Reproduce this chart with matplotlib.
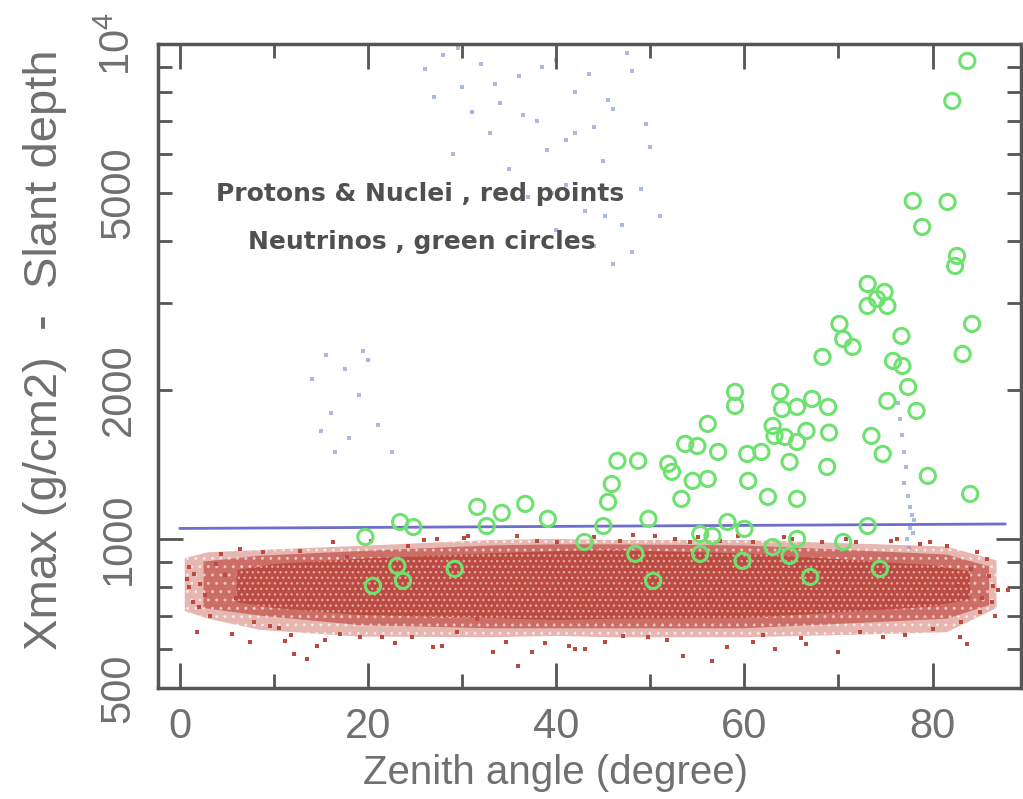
import matplotlib
matplotlib.use('Agg')
import matplotlib.pyplot as plt
from matplotlib.ticker import FixedLocator, FixedFormatter

plt.rcParams['font.family'] = ['Liberation Sans', 'DejaVu Sans']
plt.rcParams['mathtext.default'] = 'regular'

# neutrino showers (green circles): zenith angle [deg], Xmax - slant depth [g/cm2]
nu_angle = [19.7, 20.5, 23.1, 23.7, 29.2, 23.4, 24.8, 31.6, 32.6, 34.2, 36.7, 39.1,
            43.0, 45.0, 45.5, 45.9, 46.5, 48.7, 48.4, 50.3, 49.8, 51.9, 52.3, 53.3,
            53.7, 55.0, 54.5, 56.1, 56.1, 57.2, 55.3, 56.6, 55.3, 58.2, 60.0, 59.0,
            59.0, 59.8, 60.3, 60.4, 61.8, 62.5, 63.0, 63.2, 63.0, 63.8, 64.0, 64.3,
            64.8, 64.8, 65.6, 65.6, 65.6, 65.6, 66.6, 67.0, 67.2, 68.3, 68.9, 69.0,
            68.8, 70.1, 70.5, 71.5, 73.1, 74.1, 74.9, 73.1, 75.2, 76.7, 75.8, 76.8,
            77.4, 75.2, 78.3, 73.5, 74.7, 79.5, 84.0, 73.1, 70.5, 74.4, 84.2, 83.2,
            82.4, 82.6, 78.9, 77.9, 81.6, 82.1, 83.7]
nu_depth = [1009, 804, 882, 823, 870, 1082, 1057, 1161, 1062, 1129, 1177, 1098,
            986, 1062, 1188, 1291, 1438, 1438, 933, 823, 1098, 1418, 1366, 1205,
            1556, 1541, 1310, 1322, 1708, 1499, 1023, 1014, 933, 1082, 1048, 1982,
            1857, 903, 1485, 1310, 1499, 1216, 1692, 1615, 963, 1982, 1830, 1607,
            1431, 924, 1000, 1570, 1848, 1205, 1653, 838, 1918, 2332, 1848, 1640,
            1398, 2719, 2535, 2443, 3275, 3054, 3155, 2956, 2956, 2571, 2289, 2236,
            2028, 1900, 1814, 1615, 1485, 1341, 1233, 1062, 986, 870, 2719, 2364,
            3560, 3730, 4269, 4817, 4795, 7670, 9240]

# protons & nuclei (red points): dense band, read as envelopes
band_angle = [0.5, 3.0, 8.5, 19.0, 33.0, 40.0, 46.0, 60.0, 71.0, 81.5, 86.8]
outer_low = [715, 690, 655, 635, 633, 637, 633, 633, 640, 648, 725]
outer_high = [915, 940, 950, 968, 995, 1000, 995, 995, 980, 965, 905]
mid_angle = [2.5, 8.5, 19.0, 33.0, 40.0, 46.0, 60.0, 71.0, 81.5, 86.0]
mid_low = [725, 700, 670, 660, 660, 660, 660, 675, 690, 735]
mid_high = [900, 925, 945, 970, 975, 975, 970, 950, 930, 880]
core_angle = [6.0, 10.0, 19.0, 33.0, 40.0, 46.0, 60.0, 71.0, 80.0, 84.0]
core_low = [745, 725, 702, 692, 686, 690, 692, 712, 730, 755]
core_high = [865, 890, 912, 935, 945, 950, 935, 908, 885, 860]

# protons & nuclei, scattered points outside / at the edge of the dense band
pn_angle = [1.8, 5.5, 7.4, 9.6, 11.2, 13.5, 14.6, 17.0, 19.1, 21.5, 24.7, 26.9,
            27.8, 33.3, 35.9, 37.4, 41.4, 29.4, 31.6, 1.4, 0.9, 4.3, 6.4, 8.8,
            12.8, 16.3, 17.7, 24.2, 27.3, 30.6, 35.8, 37.9, 40.1, 45.2, 47.1, 49.7,
            53.5, 56.6, 58.1, 60.9, 63.2, 66.6, 69.9, 72.3, 74.7, 80.0, 82.9, 83.7,
            86.3, 86.4, 85.8, 84.7, 81.5, 79.7, 76.2, 71.9, 68.3, 65.1, 60.9, 57.4,
            54.2, 50.5, 46.8, 82.6, 85.0, 42.0, 3.2, 2.1, 10.5, 22.8, 51.8, 62.0,
            1.0, 1.5, 2.6, 3.8, 0.7, 2.0, 4.8, 5.9, 86.0, 87.0, 85.3, 84.1, 86.6,
            44.0, 48.2, 52.6, 55.1, 59.3, 64.2, 70.8, 75.6, 78.7, 20.3, 25.9, 30.2,
            34.6, 38.8, 11.8, 15.4, 7.9, 88.0, 83.0, 77.1, 66.0, 43.1, 12.1]
pn_depth = [649, 642, 619, 667, 622, 572, 608, 642, 634, 634, 634, 605,
            608, 592, 554, 592, 608, 649, 689, 746, 878, 933, 955, 941,
            946, 986, 920, 968, 1000, 1014, 1014, 991, 986, 619, 637, 634,
            580, 567, 605, 619, 600, 614, 592, 649, 634, 658, 634, 614,
            746, 804, 911, 941, 968, 986, 1000, 986, 986, 1000, 986, 991,
            986, 1014, 991, 804, 712, 600, 700, 810, 660, 615, 625, 640,
            800, 850, 770, 890, 830, 730, 845, 760, 840, 790, 760, 870, 700,
            1010, 1020, 1000, 1008, 1015, 1010, 1000, 990, 975, 990, 995, 1005,
            620, 615, 640, 625, 680, 790, 680, 640, 630, 598, 585]

# faint blue dots (upper area and column near 77 deg)
bl_angle = [26, 28, 30, 32, 34, 36, 38, 40, 42, 44, 46, 48, 50, 35, 39, 41, 43,
            45, 47, 49, 37, 33, 31, 29, 44, 46, 48, 42, 40, 51,
            27, 29.5, 33.5, 36.5, 38.5, 41, 43.5, 45.5, 47.5, 49.5, 39.5, 45.2,
            14, 15.5, 16, 17.5, 18, 19, 20, 21, 22.5, 16.5, 19.5, 15,
            76.3, 76.5, 76.8, 77.0, 77.2, 77.0, 77.4, 77.6, 77.8, 78.0, 77.6, 77.9, 77.3, 77.5]
bl_depth = [8900, 9500, 8200, 9100, 7600, 8600, 7000, 9300, 8000, 6800, 7400, 8800,
            6200, 5600, 6100, 5200, 4600, 5800, 4300, 5100, 4900, 6600, 7300, 6000,
            3900, 3600, 3800, 6600, 4200, 4500,
            7800, 9800, 8300, 7200, 9000, 6400, 8700, 7700, 9600, 6900, 5000, 4500,
            2100, 2350, 1800, 2200, 1600, 1950, 2300, 1700, 1500, 1500, 2400, 1650,
            1880, 1750, 1620, 1500, 1400, 1300, 1220, 1160, 1120, 1090, 1050, 1030, 1000, 960]

# cut line
line_angle = [0.0, 87.7]
line_depth = [1050, 1072]

grey = '#707070'
red = '#bb4a40'

fig = plt.figure(figsize=(10.23, 7.99), dpi=100)
ax = fig.add_axes([0.1545, 0.139, 0.8435, 0.806])
ax.set_yscale('log')

ax.scatter(bl_angle, bl_depth, s=5, color='#a9b9e2', marker='s', linewidths=0, zorder=1)
ax.fill_between(band_angle, outer_low, outer_high, facecolor='#d27a71', edgecolor='white',
                hatch='..', linewidth=0, alpha=0.55, zorder=2)
ax.fill_between(mid_angle, mid_low, mid_high, facecolor='#c65c53', edgecolor='#f0d0cc',
                hatch='..', linewidth=0, alpha=0.8, zorder=2)
ax.fill_between(core_angle, core_low, core_high, facecolor=red, edgecolor='#e4aaa3',
                hatch='...', linewidth=0, alpha=0.95, zorder=3)
ax.scatter(pn_angle, pn_depth, s=9, color=red, marker='s', linewidths=0, zorder=3)
ax.plot(line_angle, line_depth, color='#6e6ecb', lw=2, zorder=4)
ax.scatter(nu_angle, nu_depth, s=120, facecolors='none', edgecolors='#6ee26e',
           linewidths=2.2, zorder=5)

ax.set_xlim(-2.34, 89.4)
ax.set_ylim(500, 10000)

ax.xaxis.set_major_locator(FixedLocator([0, 20, 40, 60, 80]))
ax.xaxis.set_minor_locator(FixedLocator([10, 30, 50, 70]))
ax.yaxis.set_major_locator(FixedLocator([1000, 10000]))
ax.yaxis.set_major_formatter(FixedFormatter(['1000', '10$^4$']))
ax.yaxis.set_minor_locator(FixedLocator([500, 600, 700, 800, 900, 2000, 3000, 4000,
                                         5000, 6000, 7000, 8000, 9000]))
ax.yaxis.set_minor_formatter(FixedFormatter(['500', '', '', '', '', '2000', '', '',
                                             '5000', '', '', '', '']))

ax.tick_params(which='both', direction='in', top=True, right=True, color='#555555',
               width=2, labelsize=30, labelcolor=grey)
ax.tick_params(which='major', length=18, pad=14)
ax.tick_params(which='minor', length=10, pad=14)
for lab in ax.get_yticklabels(which='both'):
    lab.set_rotation(90)
    lab.set_va('center')
for sp in ax.spines.values():
    sp.set_color('#555555')
    sp.set_linewidth(2.5)

ax.set_xlabel('Zenith angle (degree)', fontsize=29, color=grey)
ax.xaxis.set_label_coords(0.461, -0.132)
ax.xaxis.label.set_va('center')
ax.set_ylabel('Xmax (g/cm2)  -  Slant depth', fontsize=34, color=grey)
ax.yaxis.set_label_coords(-0.131, 0.525)
ax.yaxis.label.set_va('center')

ax.text(25.5, 4977, 'Protons & Nuclei , red points', ha='center', va='center',
        fontsize=18, color='#505050', family='DejaVu Sans', fontweight='bold')
ax.text(25.7, 3980, 'Neutrinos , green circles', ha='center', va='center',
        fontsize=18, color='#505050', family='DejaVu Sans', fontweight='bold')

fig.savefig('out.png', dpi=100)
